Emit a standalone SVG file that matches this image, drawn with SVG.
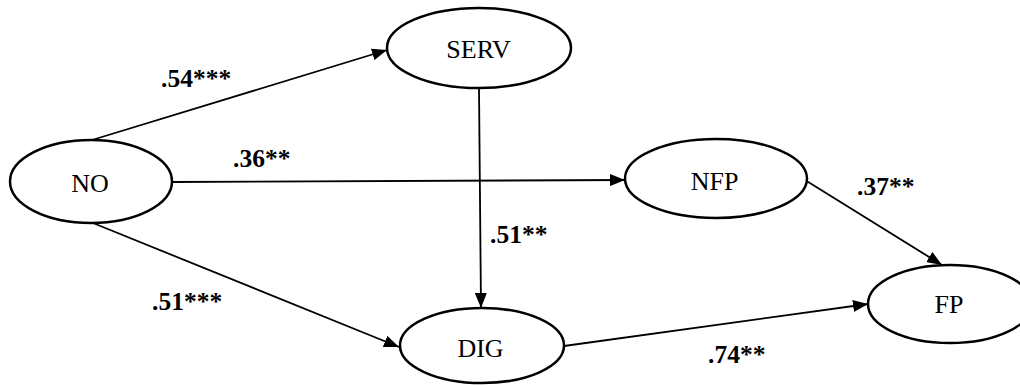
<svg xmlns="http://www.w3.org/2000/svg" width="1020" height="385" viewBox="0 0 1020 385">
<style>
.node ellipse{fill:#fff;stroke:#000;stroke-width:2.5}
.node text{font-family:"Liberation Serif",serif;font-size:26px;text-anchor:middle;fill:#000}
.edge line{stroke:#000;stroke-width:1.8;fill:none}
.lbl{font-family:"Liberation Serif",serif;font-size:25.5px;font-weight:bold;fill:#000}
</style>
<defs>
<marker id="ah" markerUnits="userSpaceOnUse" markerWidth="16" markerHeight="12" refX="15" refY="6" orient="auto">
<path d="M0,0 L15,6 L0,12 Z" fill="#000"/>
</marker>
</defs>
<rect width="1020" height="385" fill="#fff"/>
<g id="connectors" class="edge">
<line x1="92" y1="140" x2="387" y2="50" marker-end="url(#ah)"/>
<line x1="172" y1="182" x2="625" y2="180" marker-end="url(#ah)"/>
<line x1="93" y1="223" x2="399" y2="347" marker-end="url(#ah)"/>
<line x1="479" y1="88" x2="481" y2="308" marker-end="url(#ah)"/>
<line x1="805" y1="180" x2="942" y2="265" marker-end="url(#ah)"/>
<line x1="564" y1="346" x2="868" y2="304" marker-end="url(#ah)"/>
</g>
<g id="node-NO" class="node"><ellipse cx="91" cy="181.5" rx="81" ry="41.5"/><text x="90" y="192">NO</text></g>
<g id="node-SERV" class="node"><ellipse cx="479" cy="48" rx="92" ry="40"/><text x="478.5" y="58">SERV</text></g>
<g id="node-NFP" class="node"><ellipse cx="716" cy="178.5" rx="91" ry="39.5"/><text x="714.5" y="190">NFP</text></g>
<g id="node-DIG" class="node"><ellipse cx="482" cy="345.5" rx="82" ry="37.5"/><text x="480.5" y="357">DIG</text></g>
<g id="node-FP" class="node"><ellipse cx="950" cy="304" rx="82" ry="39"/><text x="949" y="313">FP</text></g>
<g id="labels">
<text class="lbl" x="161" y="87">.54***</text>
<text class="lbl" x="233" y="167">.36**</text>
<text class="lbl" x="152" y="310">.51***</text>
<text class="lbl" x="490" y="243">.51**</text>
<text class="lbl" x="857" y="195">.37**</text>
<text class="lbl" x="708" y="363">.74**</text>
</g>
</svg>
